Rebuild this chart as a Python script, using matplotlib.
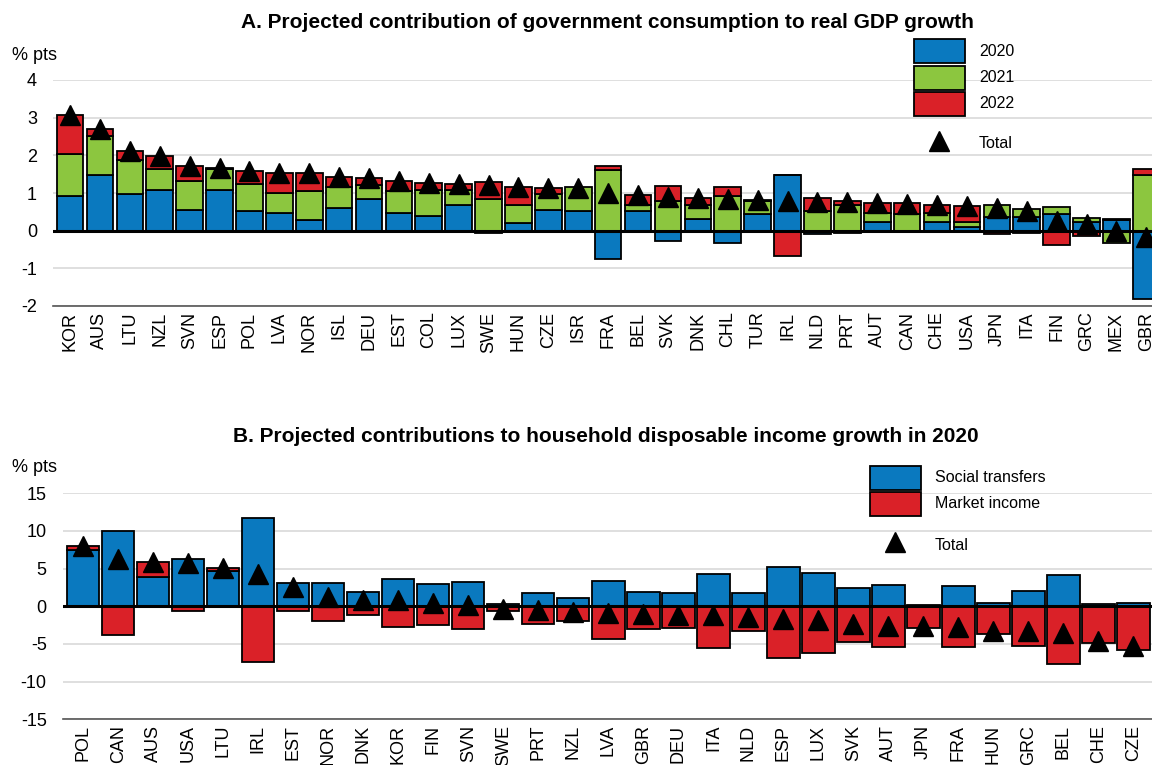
import matplotlib
matplotlib.use("Agg")
import matplotlib.pyplot as plt
from matplotlib.patches import Rectangle
import numpy as np

plt.rcParams['font.family'] = ['Liberation Sans', 'DejaVu Sans']

# ---------------- Panel A data ----------------
countries_a = ["KOR", "AUS", "LTU", "NZL", "SVN", "ESP", "POL", "LVA", "NOR", "ISL",
               "DEU", "EST", "COL", "LUX", "SWE", "HUN", "CZE", "ISR", "FRA", "BEL",
               "SVK", "DNK", "CHL", "TUR", "IRL", "NLD", "PRT", "AUT", "CAN", "CHE",
               "USA", "JPN", "ITA", "FIN", "GRC", "MEX", "GBR"]
y2020 = [0.93, 1.48, 0.97, 1.07, 0.56, 1.09, 0.53, 0.48, 0.29, 0.60,
         0.84, 0.46, 0.39, 0.68, -0.07, 0.20, 0.55, 0.53, -0.74, 0.53,
         -0.28, 0.30, -0.33, 0.44, 1.47, -0.09, -0.05, 0.22, -0.03, 0.22,
         0.09, 0.37, 0.37, 0.44, 0.24, 0.28, -1.82]
y2021 = [1.11, 1.03, 0.91, 0.58, 0.75, 0.55, 0.70, 0.53, 0.75, 0.55,
         0.36, 0.58, 0.68, 0.40, 0.84, 0.49, 0.43, 0.63, 1.62, 0.16,
         0.80, 0.38, 0.91, 0.36, 0.00, 0.53, 0.67, 0.25, 0.43, 0.24,
         0.15, 0.31, 0.21, 0.18, 0.10, -0.33, 1.49]
y2022 = [1.04, 0.19, 0.23, 0.32, 0.42, 0.03, 0.35, 0.51, 0.48, 0.27,
         0.20, 0.29, 0.19, 0.16, 0.45, 0.47, 0.14, -0.04, 0.11, 0.26,
         0.38, 0.18, 0.25, 0.02, -0.68, 0.33, 0.13, 0.26, 0.31, 0.21,
         0.41, -0.09, -0.06, -0.37, -0.15, 0.03, 0.15]

# ---------------- Panel B data ----------------
countries_b = ["POL", "CAN", "AUS", "USA", "LTU", "IRL", "EST", "NOR", "DNK", "KOR",
               "FIN", "SVN", "SWE", "PRT", "NZL", "LVA", "GBR", "DEU", "ITA", "NLD",
               "ESP", "LUX", "SVK", "AUT", "JPN", "FRA", "HUN", "GRC", "BEL", "CHE", "CZE"]
social = [7.41, 10.03, 3.86, 6.30, 4.62, 11.76, 3.15, 3.15, 1.95, 3.64,
          2.93, 3.20, 0.25, 1.78, 1.15, 3.37, 1.95, 1.78, 4.31, 1.78,
          5.24, 4.39, 2.49, 2.84, 0.18, 2.66, 0.44, 2.00, 4.17, 0.27, 0.44]
market = [0.62, -3.77, 2.00, -0.58, 0.53, -7.41, -0.58, -1.95, -1.11, -2.80,
          -2.49, -2.97, -0.62, -2.31, -1.91, -4.31, -3.02, -2.93, -5.50, -3.24,
          -6.88, -6.26, -4.79, -5.46, -2.84, -5.37, -3.68, -5.28, -7.68, -4.84, -5.77]

BLUE = "#0A79BF"
GREEN = "#8CC63F"
RED = "#DA2128"
FS = 13
TFS = 15
LFS = 11.5

W, H = 1152, 765
fig = plt.figure(figsize=(W / 100, H / 100), dpi=100)


def px_axes(left, right, top, bottom):
    return fig.add_axes([left / W, 1 - bottom / H, (right - left) / W, (bottom - top) / H])


def stack(ax, x, series, colors, width):
    pos = np.zeros(len(x))
    neg = np.zeros(len(x))
    for vals, c in zip(series, colors):
        v = np.asarray(vals, dtype=float)
        base = np.where(v >= 0, pos, neg)
        ax.bar(x, v, bottom=base, width=width, color=c, edgecolor="black",
               linewidth=1.3, zorder=3)
        pos = pos + np.where(v >= 0, v, 0)
        neg = neg + np.where(v < 0, v, 0)
    return pos + neg


def style(ax, ticks, labels, pad):
    for s in ["left", "right", "top"]:
        ax.spines[s].set_visible(False)
    ax.spines["bottom"].set_color("#555555")
    ax.spines["bottom"].set_linewidth(1.2)
    ax.set_yticks(ticks)
    ax.set_yticklabels(labels, fontsize=FS)
    ax.tick_params(axis="y", length=0, pad=pad)
    ax.tick_params(axis="x", length=0, labelsize=FS, rotation=90, pad=4)
    ax.yaxis.grid(True, color="#d9d9d9", linewidth=1.2, zorder=0)
    ax.set_axisbelow(True)
    ax.axhline(0, color="black", linewidth=2.2, zorder=4)


# ---------------- Panel A ----------------
axA = px_axes(53, 1152, 80, 306)
xa = np.arange(len(countries_a))
tot_a = stack(axA, xa, [y2020, y2021, y2022], [BLUE, GREEN, RED], 0.89)
axA.plot(xa, tot_a, linestyle="none", marker="^", markersize=14, color="black", zorder=6)
axA.set_xlim(-0.57, 36.19)
axA.set_ylim(-2, 4)
axA.set_xticks(xa)
axA.set_xticklabels(countries_a)
style(axA, [-2, -1, 0, 1, 2, 3, 4], ["-2", "-1", "0", "1", "2", "3", "4"], 11.5)

fig.text(607 / W, 1 - 23 / H, "A. Projected contribution of government consumption to real GDP growth",
         ha="center", va="center", fontsize=TFS, fontweight="bold")
fig.text(12 / W, 1 - 55 / H, "% pts", ha="left", va="center", fontsize=FS)

# legend A
for i, (c, lab) in enumerate(zip([BLUE, GREEN, RED], ["2020", "2021", "2022"])):
    top = 39 + i * 26.5
    fig.add_artist(Rectangle((914 / W, 1 - (top + 24) / H), 51 / W, 24 / H,
                             transform=fig.transFigure, facecolor=c, edgecolor="black",
                             linewidth=1.3, zorder=10))
    fig.text(979 / W, 1 - (top + 12) / H, lab, ha="left", va="center", fontsize=LFS)
fig.lines.append(plt.Line2D([939 / W], [1 - 141 / H], transform=fig.transFigure,
                            marker="^", markersize=14, color="black", linestyle="none"))
fig.text(979 / W, 1 - 144 / H, "Total", ha="left", va="center", fontsize=LFS)

# ---------------- Panel B ----------------
axB = px_axes(62.7, 1152, 493.3, 719.3)
xb = np.arange(len(countries_b))
tot_b = stack(axB, xb, [social, market], [BLUE, RED], 0.92)
axB.plot(xb, tot_b, linestyle="none", marker="^", markersize=14, color="black", zorder=6)
axB.set_xlim(-0.59, 30.53)
axB.set_ylim(-15, 15)
axB.set_xticks(xb)
axB.set_xticklabels(countries_b)
style(axB, [-15, -10, -5, 0, 5, 10, 15], ["-15", "-10", "-5", "0", "5", "10", "15"], 11.5)

fig.text(606 / W, 1 - 437 / H, "B. Projected contributions to household disposable income growth in 2020",
         ha="center", va="center", fontsize=TFS, fontweight="bold")
fig.text(12 / W, 1 - 467 / H, "% pts", ha="left", va="center", fontsize=FS)

for i, (c, lab) in enumerate(zip([BLUE, RED], ["Social transfers", "Market income"])):
    top = 466 + i * 26
    fig.add_artist(Rectangle((870 / W, 1 - (top + 24) / H), 51 / W, 24 / H,
                             transform=fig.transFigure, facecolor=c, edgecolor="black",
                             linewidth=1.3, zorder=10))
    fig.text(935 / W, 1 - (top + 12) / H, lab, ha="left", va="center", fontsize=LFS)
fig.lines.append(plt.Line2D([895 / W], [1 - 542 / H], transform=fig.transFigure,
                            marker="^", markersize=14, color="black", linestyle="none"))
fig.text(935 / W, 1 - 545 / H, "Total", ha="left", va="center", fontsize=LFS)

fig.savefig("out.png", dpi=100)
